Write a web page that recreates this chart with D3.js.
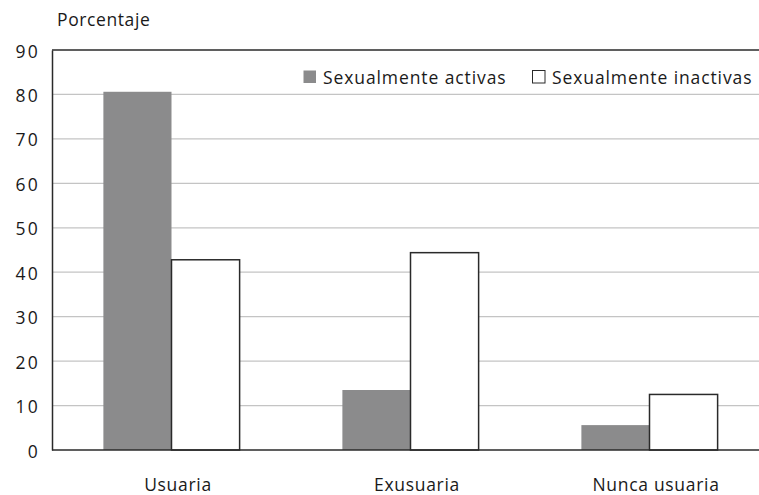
<!DOCTYPE html>
<html lang="es">
<head>
  <meta charset="UTF-8">
  <title>Porcentaje</title>
  <style>
    body { margin: 0; background: #fff; }
    text { font-family: "Open Sans", "Noto Sans", sans-serif; fill: #1a1a1a; }
  </style>
</head>
<body>
  <svg width="759" height="495" id="chart"></svg>
  <script src="https://d3js.org/d3.v7.min.js"></script>
  <script>
    const categories = ['Usuaria', 'Exusuaria', 'Nunca usuaria'];
    const seriesNames = ['Sexualmente activas', 'Sexualmente inactivas'];
    const activas = [80.6, 13.5, 5.6];
    const inactivas = [42.8, 44.4, 12.5];
    const yTicks = [0, 10, 20, 30, 40, 50, 60, 70, 80, 90];

    const svg = d3.select('#chart');
    const plotLeft = 52, plotRight = 769, plotTop = 50, plotBottom = 450;

    const x = d3.scaleBand().domain(categories).range([plotLeft, plotRight])
        .paddingInner(0.43).paddingOuter(0.215);
    const xs = d3.scaleBand().domain(seriesNames).range([0, x.bandwidth()]);
    const y = d3.scaleLinear().domain([0, 90]).range([plotBottom, plotTop]);

    const fills = { 'Sexualmente activas': '#8b8b8c', 'Sexualmente inactivas': '#ffffff' };

    // gridlines
    svg.append('g').selectAll('line').data(yTicks.filter(d => d > 0 && d < 90)).join('line')
        .attr('x1', plotLeft).attr('x2', plotRight)
        .attr('y1', d => y(d)).attr('y2', d => y(d))
        .attr('stroke', '#c4c4c4').attr('stroke-width', 1.2);

    // top frame line
    svg.append('line').attr('x1', plotLeft).attr('x2', plotRight)
        .attr('y1', y(90)).attr('y2', y(90))
        .attr('stroke', '#2a2a2a').attr('stroke-width', 1.5);

    // y axis
    const yAxis = svg.append('g').attr('transform', `translate(${plotLeft},0)`)
        .call(d3.axisLeft(y).tickValues(yTicks).tickSize(0).tickPadding(12));
    yAxis.select('.domain').attr('stroke', '#2a2a2a').attr('stroke-width', 1.5);
    yAxis.selectAll('text')
        .attr('font-size', 17.5)
        .attr('dy', '0.4em')
        .style('font-family', '"Open Sans", sans-serif')
        .style('letter-spacing', '2.3px')
        .attr('fill', '#1a1a1a');

    // bars
    const rows = categories.map((c, i) => ({ cat: c, values: [
      { s: seriesNames[0], v: activas[i] },
      { s: seriesNames[1], v: inactivas[i] }
    ] }));

    const groups = svg.append('g').selectAll('g').data(rows).join('g')
        .attr('transform', d => `translate(${x(d.cat)},0)`);
    groups.selectAll('rect').data(d => d.values).join('rect')
        .attr('x', d => xs(d.s))
        .attr('y', d => y(d.v))
        .attr('width', xs.bandwidth())
        .attr('height', d => y(0) - y(d.v))
        .attr('fill', d => fills[d.s])
        .attr('stroke', d => d.s === seriesNames[1] ? '#2a2a2a' : 'none')
        .attr('stroke-width', 1.5);

    // x axis baseline
    svg.append('line').attr('x1', plotLeft).attr('x2', plotRight)
        .attr('y1', y(0)).attr('y2', y(0))
        .attr('stroke', '#2a2a2a').attr('stroke-width', 1.5);

    // category labels (sit a little right of the bar pair centre)
    svg.append('g').selectAll('text').data(categories).join('text')
        .attr('x', d => x(d) + x.bandwidth() / 2 + 6.5)
        .attr('y', 491)
        .attr('text-anchor', 'middle')
        .attr('font-size', 17.5)
        .style('letter-spacing', '0.7px')
        .text(d => d);

    // y title
    svg.append('text').attr('x', 57).attr('y', 26)
        .attr('font-size', 17.5)
        .style('letter-spacing', '0.6px')
        .text('Porcentaje');

    // legend
    const legendX = [303, 532];
    const legend = svg.append('g').selectAll('g').data(seriesNames).join('g')
        .attr('transform', (d, i) => `translate(${legendX[i]},70)`);
    legend.append('rect')
        .attr('x', 0.5).attr('y', 0.5).attr('width', 12.5).attr('height', 12.5)
        .attr('fill', d => fills[d])
        .attr('stroke', d => d === seriesNames[1] ? '#2a2a2a' : 'none')
        .attr('stroke-width', 1);
    legend.append('text')
        .attr('x', 20).attr('y', 13.5)
        .attr('font-size', 17.5)
        .style('letter-spacing', '0.9px')
        .text(d => d);
  </script>
</body>
</html>
